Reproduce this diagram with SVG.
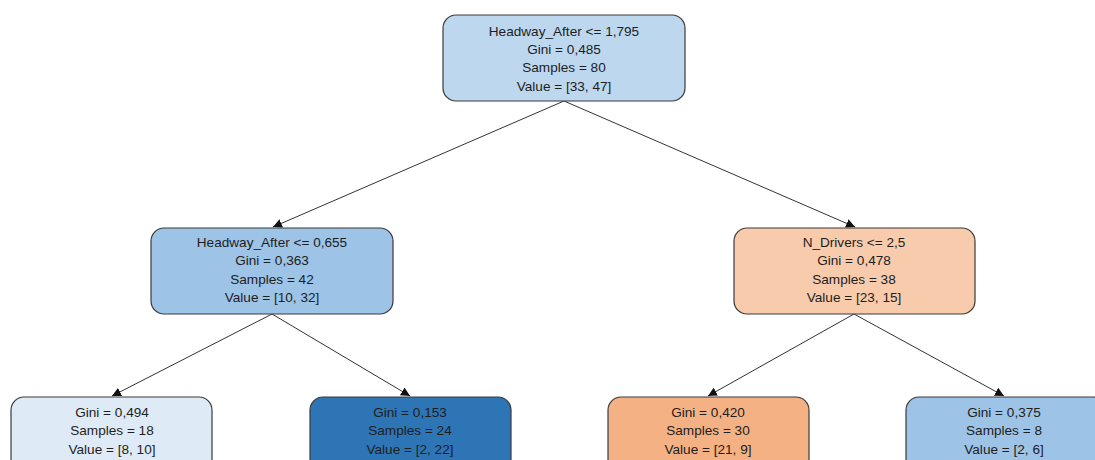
<svg xmlns="http://www.w3.org/2000/svg" width="1095" height="460" viewBox="0 0 1095 460">
  <style>
    .box { stroke: #3a3a3a; stroke-width: 1.2; }
    .lbl { font-family: "Liberation Sans", Arial, sans-serif; font-size: 13.6px; fill: #1e1e1e; text-anchor: middle; }
    .edge { stroke: #333; stroke-width: 1; fill: none; marker-end: url(#arrow); }
  </style>
  <defs>
    <marker id="arrow" viewBox="0 0 10 10" refX="10" refY="5" markerWidth="9" markerHeight="9" markerUnits="userSpaceOnUse" orient="auto">
      <path d="M0,0 L10,5 L0,10 z" fill="#111"/>
    </marker>
  </defs>
  <rect width="1095" height="460" fill="#ffffff"/>

  <g id="connectors">
    <line class="edge" x1="564" y1="101" x2="273" y2="227"/>
    <line class="edge" x1="564" y1="101" x2="855" y2="227"/>
    <line class="edge" x1="272" y1="314" x2="112" y2="396"/>
    <line class="edge" x1="272" y1="314" x2="410" y2="396"/>
    <line class="edge" x1="854" y1="314" x2="708" y2="396"/>
    <line class="edge" x1="854" y1="314" x2="1004" y2="396"/>
  </g>

  <g id="root">
    <rect class="box" x="443" y="15" width="242" height="86" rx="13" fill="#bdd7ee"/>
    <text class="lbl" x="564" y="36">Headway_After &lt;= 1,795</text>
    <text class="lbl" x="564" y="54">Gini = 0,485</text>
    <text class="lbl" x="564" y="72">Samples = 80</text>
    <text class="lbl" x="564" y="91">Value = [33, 47]</text>
  </g>

  <g id="node-left">
    <rect class="box" x="151" y="228" width="242" height="86" rx="13" fill="#9dc3e6"/>
    <text class="lbl" x="272" y="247">Headway_After &lt;= 0,655</text>
    <text class="lbl" x="272" y="265">Gini = 0,363</text>
    <text class="lbl" x="272" y="284">Samples = 42</text>
    <text class="lbl" x="272" y="302">Value = [10, 32]</text>
  </g>

  <g id="node-right">
    <rect class="box" x="734" y="228" width="241" height="86" rx="13" fill="#f8cbad"/>
    <text class="lbl" x="854" y="247">N_Drivers &lt;= 2,5</text>
    <text class="lbl" x="854" y="265">Gini = 0,478</text>
    <text class="lbl" x="854" y="284">Samples = 38</text>
    <text class="lbl" x="854" y="302">Value = [23, 15]</text>
  </g>

  <g id="leaf-1">
    <rect class="box" x="11" y="397" width="201" height="80" rx="13" fill="#deebf7"/>
    <text class="lbl" x="112" y="417">Gini = 0,494</text>
    <text class="lbl" x="112" y="435">Samples = 18</text>
    <text class="lbl" x="112" y="454">Value = [8, 10]</text>
  </g>

  <g id="leaf-2">
    <rect class="box" x="310" y="397" width="201" height="80" rx="13" fill="#2e75b6"/>
    <text class="lbl" x="410" y="417">Gini = 0,153</text>
    <text class="lbl" x="410" y="435">Samples = 24</text>
    <text class="lbl" x="410" y="454">Value = [2, 22]</text>
  </g>

  <g id="leaf-3">
    <rect class="box" x="608" y="397" width="201" height="80" rx="13" fill="#f4b183"/>
    <text class="lbl" x="708" y="417">Gini = 0,420</text>
    <text class="lbl" x="708" y="435">Samples = 30</text>
    <text class="lbl" x="708" y="454">Value = [21, 9]</text>
  </g>

  <g id="leaf-4">
    <rect class="box" x="906" y="397" width="201" height="80" rx="13" fill="#9dc3e6"/>
    <text class="lbl" x="1004" y="417">Gini = 0,375</text>
    <text class="lbl" x="1004" y="435">Samples = 8</text>
    <text class="lbl" x="1004" y="454">Value = [2, 6]</text>
  </g>
</svg>
